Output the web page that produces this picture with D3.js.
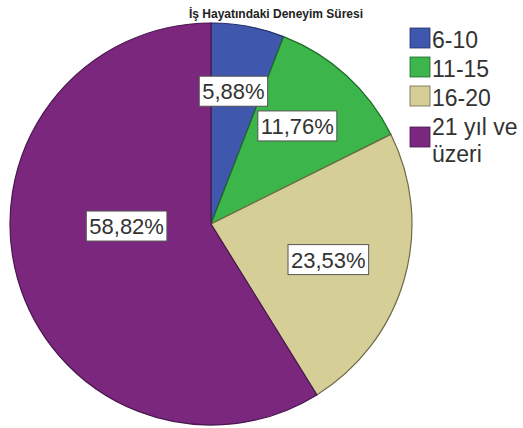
<!DOCTYPE html>
<html><head><meta charset="utf-8">
<script src="https://cdn.jsdelivr.net/npm/d3@7"></script>
<style>html,body{margin:0;padding:0;background:#fff;}svg{display:block;}</style>
</head><body>
<svg id="c" width="523" height="428"></svg>
<script>
const title = "İş Hayatındaki Deneyim Süresi";
const categories = ["6-10", "11-15", "16-20", "21 yıl ve üzeri"];
const legendLines = [["6-10"], ["11-15"], ["16-20"], ["21 yıl ve", "üzeri"]];
const counts = [1, 2, 4, 10];
const percentLabels = ["5,88%", "11,76%", "23,53%", "58,82%"];
const colors = ["#3f58ad", "#3cb54a", "#d5cf97", "#7b277d"];
const strokes = ["#26306a", "#1f6a2a", "#6e6a4c", "#4a1850"];

const svg = d3.select("#c");
const cx = 211, cy = 224, R = 201;

svg.append("text").attr("x", 276).attr("y", 18).attr("text-anchor", "middle")
  .attr("font-family", "Liberation Sans, Arial, sans-serif").attr("font-weight", "bold")
  .attr("font-size", 12).attr("fill", "#222").text(title);

const pie = d3.pie().sort(null).value(d => d);
const arcs = pie(counts);
const arc = d3.arc().innerRadius(0).outerRadius(R);
const g = svg.append("g").attr("transform", `translate(${cx},${cy})`);
g.selectAll("path").data(arcs).join("path")
  .attr("d", arc).attr("fill", (d, i) => colors[i])
  .attr("stroke", (d, i) => strokes[i]).attr("stroke-width", 1.2);

// label placement (layout): angle offset (deg) and radius fraction
const labelLayout = [[-1, 0.67], [-1, 0.65], [1, 0.61], [14.5, 0.42]];
const lab = g.selectAll("g.lab").data(arcs).join("g").attr("class", "lab")
  .attr("transform", (d, i) => {
    const a = (d.startAngle + d.endAngle) / 2 + labelLayout[i][0] * Math.PI / 180;
    const r = R * labelLayout[i][1];
    return `translate(${r * Math.sin(a)},${-r * Math.cos(a)})`;
  });
lab.each(function(d, i) {
  const s = d3.select(this);
  const t = s.append("text").attr("text-anchor", "middle").attr("dy", "0.36em")
    .attr("font-family", "Liberation Sans, Arial, sans-serif").attr("font-size", 22)
    .attr("fill", "#333").text(percentLabels[i]);
  const bb = t.node().getBBox();
  s.insert("rect", "text").attr("x", bb.x - 3).attr("y", -15).attr("width", bb.width + 6)
    .attr("height", 30).attr("fill", "#fff").attr("stroke", "#555").attr("stroke-width", 1);
});

// legend
const legendY = [28, 57, 86, 127];
const lg = svg.append("g");
categories.forEach((c, i) => {
  lg.append("rect").attr("x", 410).attr("y", legendY[i]).attr("width", 20).attr("height", 20)
    .attr("fill", colors[i]).attr("stroke", strokes[i]).attr("stroke-width", 0.8);
  const t = lg.append("text").attr("x", 432)
    .attr("font-family", "Liberation Sans, Arial, sans-serif").attr("font-size", 23)
    .attr("fill", "#333");
  legendLines[i].forEach((ln, j) => {
    t.append("tspan").attr("x", 432).attr("y", (i < 3 ? legendY[i] + 20 : 135) + j * 27).text(ln);
  });
});
</script>
</body></html>
